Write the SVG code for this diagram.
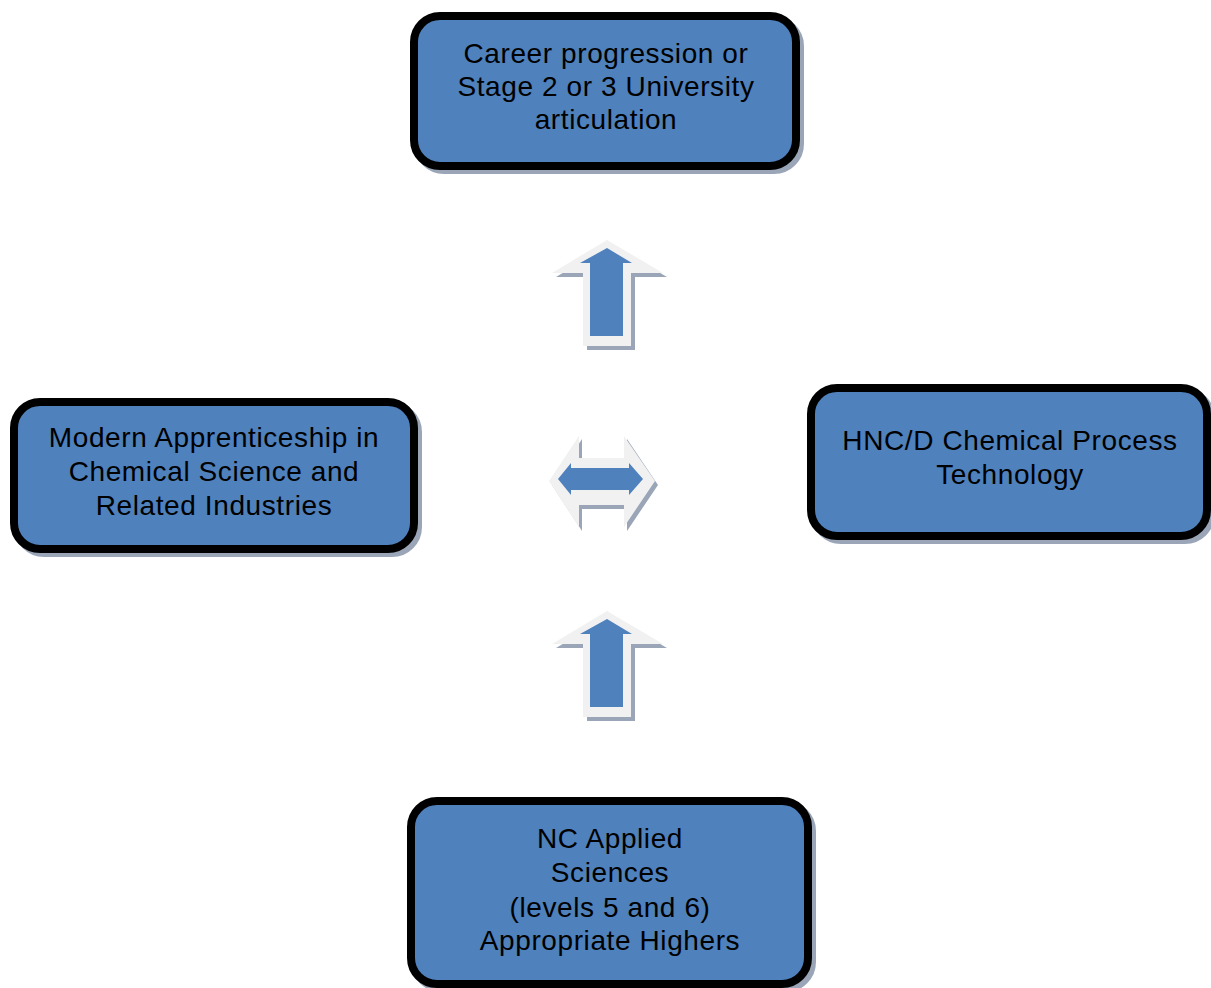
<svg xmlns="http://www.w3.org/2000/svg" width="1211" height="988" viewBox="0 0 1211 988">
<style>
.box{fill:#4f81bd;stroke:#000;stroke-width:8}
.sh{fill:none;stroke:#9aa6b8;stroke-width:8}
.t{font-family:"Liberation Sans",Arial,sans-serif;font-size:28px;letter-spacing:0.6px;fill:#000;text-anchor:middle}
.al{fill:#f1f1f1}
.as{fill:#9aa6b8}
.ab{fill:#4f81bd}
</style>
<rect width="1211" height="988" fill="#fff"/>
<g id="connectors">
  <g id="arrow-up-top">
    <polygon class="as" points="611,244 667,277 635,277 635,350 587,350 587,277 556,277"/>
    <polygon class="al" points="607,240 663,273 631,273 631,346 583,346 583,273 552,273"/>
    <polygon class="ab" points="607,248 632,263 623,263 623,336 590,336 590,263 580,263"/>
  </g>
  <g id="arrow-up-bottom">
    <polygon class="as" points="611,615 667,648 635,648 635,721 587,721 587,648 556,648"/>
    <polygon class="al" points="607,611 663,644 631,644 631,717 583,717 583,644 552,644"/>
    <polygon class="ab" points="607,619 632,634 623,634 623,707 590,707 590,634 580,634"/>
  </g>
  <g id="arrow-both">
    <polygon class="as" points="552,485 582,439 582,461 627,461 627,439 658,485 627,531 627,509 582,509 582,531"/>
    <polygon class="al" points="549,481 579,436 579,458 624,458 624,436 655,481 624,527 624,505 579,505 579,527"/>
    <polygon class="ab" points="558,479 571,463 571,468 629,468 629,463 643,479 629,495 629,490 571,490 571,495"/>
  </g>
</g>
<g id="node-top">
  <rect class="sh" x="418" y="20" width="382" height="150" rx="26"/>
  <rect class="box" x="414" y="16" width="382" height="150" rx="26"/>
  <text class="t" x="606" y="63">Career progression or</text>
  <text class="t" x="606" y="96">Stage 2 or 3 University</text>
  <text class="t" x="606" y="129">articulation</text>
</g>
<g id="node-left">
  <rect class="sh" x="18" y="406" width="400" height="147" rx="26"/>
  <rect class="box" x="14" y="402" width="400" height="147" rx="26"/>
  <text class="t" x="214" y="447">Modern Apprenticeship in</text>
  <text class="t" x="214" y="481">Chemical Science and</text>
  <text class="t" x="214" y="515">Related Industries</text>
</g>
<g id="node-right">
  <rect class="sh" x="815" y="392" width="396" height="148" rx="26"/>
  <rect class="box" x="811" y="388" width="396" height="148" rx="26"/>
  <text class="t" x="1010" y="450">HNC/D Chemical Process</text>
  <text class="t" x="1010" y="484">Technology</text>
</g>
<g id="node-bottom">
  <rect class="sh" x="415" y="805" width="397" height="183" rx="26"/>
  <rect class="box" x="411" y="801" width="397" height="183" rx="26"/>
  <text class="t" x="610" y="848">NC Applied</text>
  <text class="t" x="610" y="882">Sciences</text>
  <text class="t" x="610" y="917">(levels 5 and 6)</text>
  <text class="t" x="610" y="950">Appropriate Highers</text>
</g>
</svg>
